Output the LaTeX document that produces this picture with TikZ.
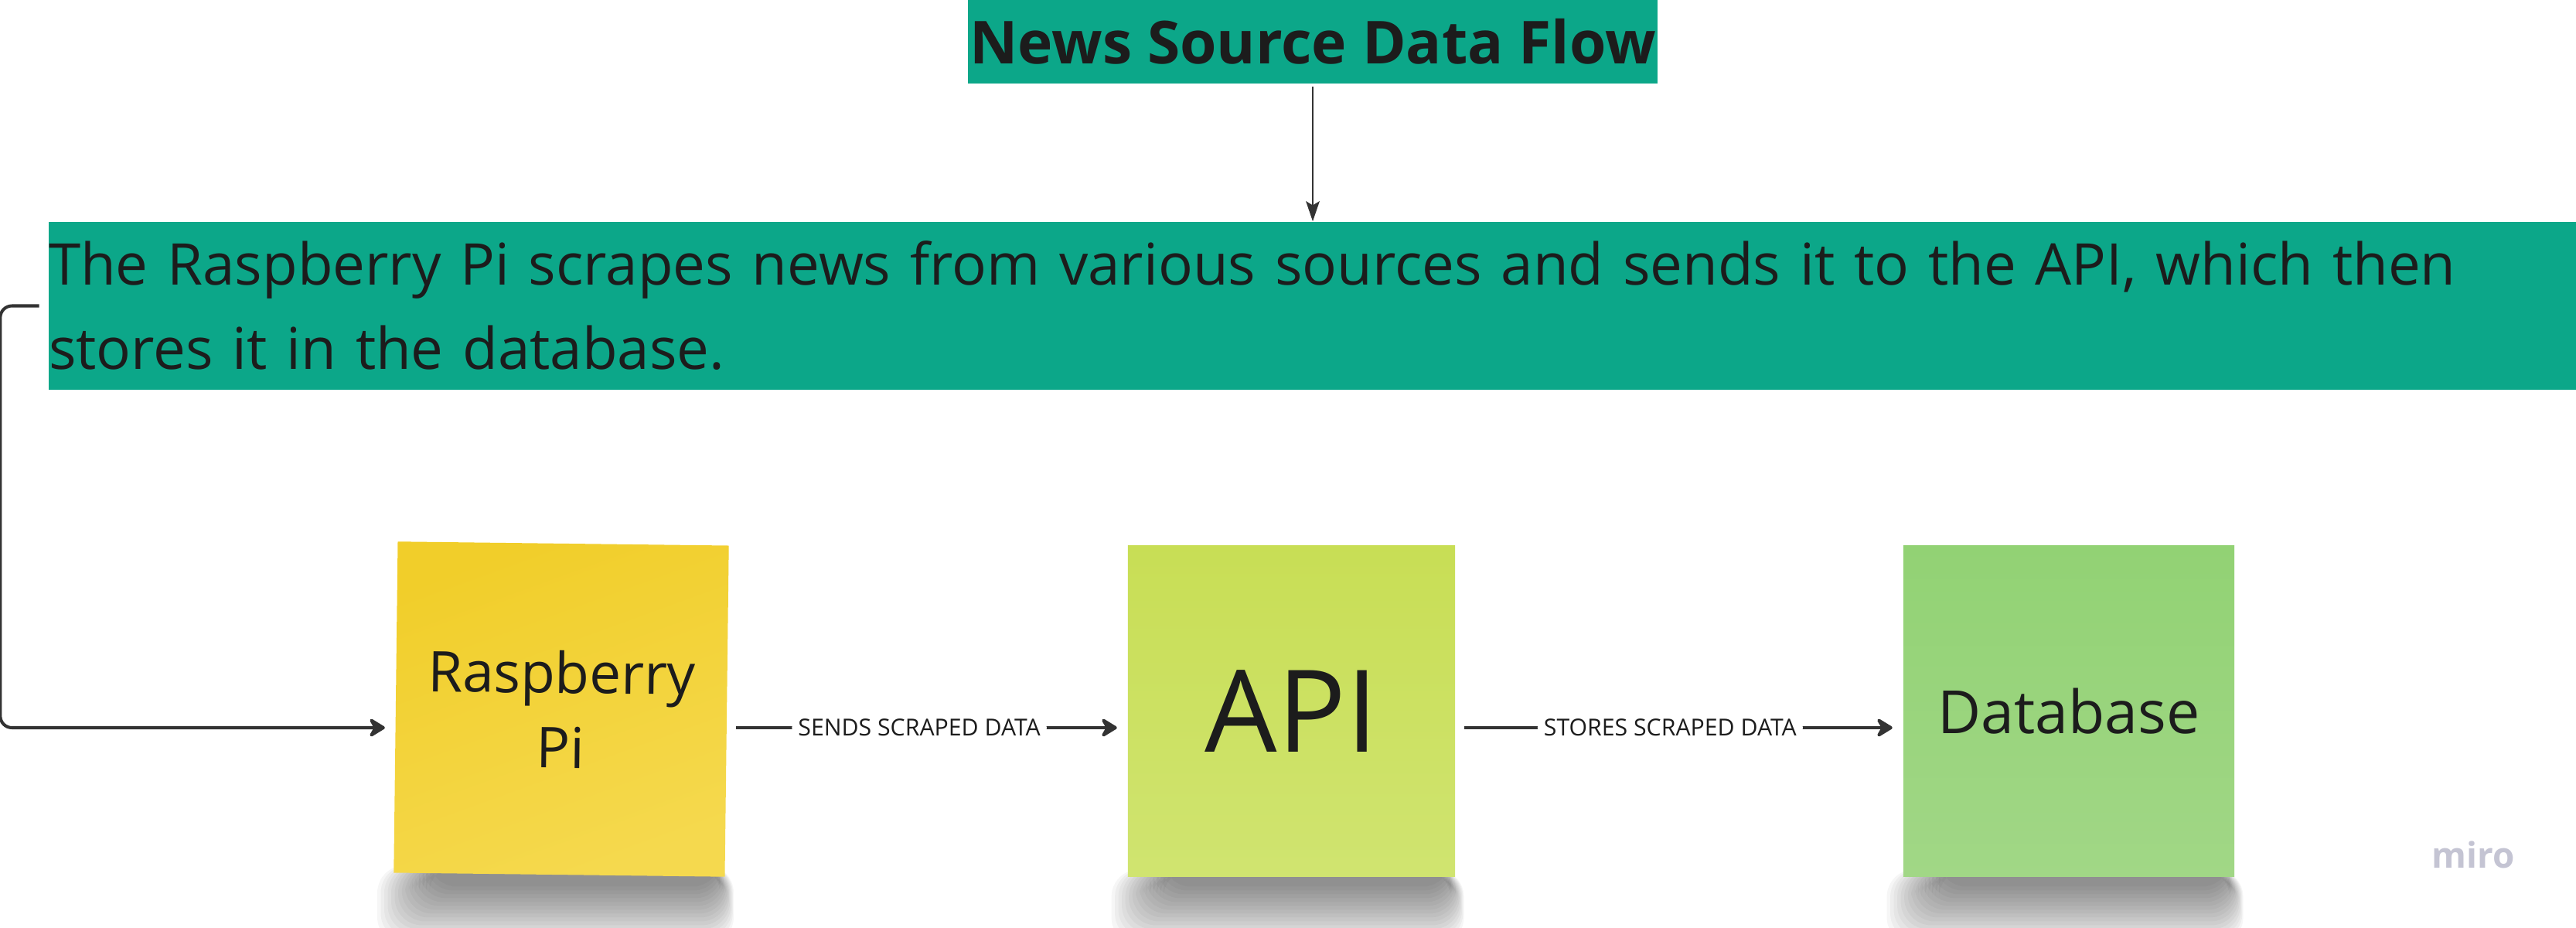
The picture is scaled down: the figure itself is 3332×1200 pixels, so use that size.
\documentclass[tikz,border=0pt]{standalone}
\usepackage{fontspec}
\setmainfont{Open Sans}
\usepackage{tikz}
\usetikzlibrary{positioning}
\usetikzlibrary{arrows.meta}
\usetikzlibrary{calc,backgrounds}
\definecolor{tealbox}{HTML}{0CA789}
\definecolor{ink}{HTML}{1C1C1C}
\definecolor{wire}{HTML}{333333}
\definecolor{miro}{HTML}{C4C4D3}
\definecolor{pitop}{HTML}{F1CE2A}
\definecolor{pibot}{HTML}{F5D94E}
\definecolor{apitop}{HTML}{C8DE55}
\definecolor{apibot}{HTML}{D0E470}
\definecolor{dbtop}{HTML}{92D274}
\definecolor{dbbot}{HTML}{A1D786}
\tikzset{title node/.style={fill=tealbox,text=ink,font=\bfseries\fontsize{21.8}{26}\selectfont,minimum width=8.92cm,minimum height=1.08cm,inner sep=0pt},
  info node/.style={fill=tealbox,text=ink,font=\fontsize{21.17}{31}\selectfont,text width=32.68cm,align=left,minimum height=2.17cm,inner sep=0pt},
  sticky/.style={minimum width=4.28cm,minimum height=4.28cm,inner sep=0pt,align=center,text=ink,font=\fontsize{20.7}{27.6}\selectfont},
  flow/.style={->,draw=wire,line width=1.15pt,rounded corners=4.3pt,shorten >=3.8pt,shorten <=3.3pt},
  flow label/.style={fill=white,text=ink,font=\fontsize{8.6}{10}\selectfont,inner xsep=2.3pt,inner ysep=1pt,pos=.48},
}

\begin{document}
\begin{tikzpicture}[x=0.01cm,y=-0.01cm,>={Stealth[length=7pt,width=8.5pt,inset=2.4pt,round]},node distance=5cm]
    \useasboundingbox (0,0) rectangle (3332,1200);
    \node[title node] (title) at (1698,54) {News Source Data Flow};
    \node[info node] (desc) at (1698,395.5) {The Raspberry Pi scrapes news from various sources and sends it to the API, which then\\stores it in the database.};

    \node[sticky,rotate=-0.7,top color=pitop,bottom color=pibot,shading angle=20] (pi) at (726,917) {Raspberry\\Pi};
    \node[sticky,minimum width=4.23cm,top color=apitop,bottom color=apibot,
          font=\fontsize{42}{50}\selectfont] (api) [right = 5.17cm of pi] {API};
    \node[sticky,top color=dbtop,bottom color=dbbot,
          font=\fontsize{21.9}{28}\selectfont] (db) [right = 5.78cm of api] {Database};
    \coordinate (lane) at (0,941);

    % soft shadows under the notes
    \begin{pgfonlayer}{background}
    \foreach \n in {pi,api,db}
      \foreach \k in {1,...,16}
        \fill[black,opacity=.035,rounded corners=10pt] ($(\n.south west)+(-25+4.5*\k,-10)$) rectangle ($(\n.south east)+(12-1.2*\k,92-5*\k)$);
    \end{pgfonlayer}

    \draw[->,draw=wire,line width=.7pt,shorten <=1pt,>={Stealth[length=7.4pt,width=5pt,inset=1.5pt]}] (title) -- (desc);
    \draw[flow] (desc.west) -- ++(-62,0) |- (pi.west |- lane);
    \path
    (pi.east |- lane) edge[flow] node[flow label] {SENDS SCRAPED DATA} (api.west |- lane)
    (api.east |- lane) edge[flow] node[flow label] {STORES SCRAPED DATA} (db.west |- lane);

    \node[text=miro,font=\bfseries\fontsize{13}{15}\selectfont,anchor=base] (brand) at (3199,1122) {miro};
\end{tikzpicture}
\end{document}
